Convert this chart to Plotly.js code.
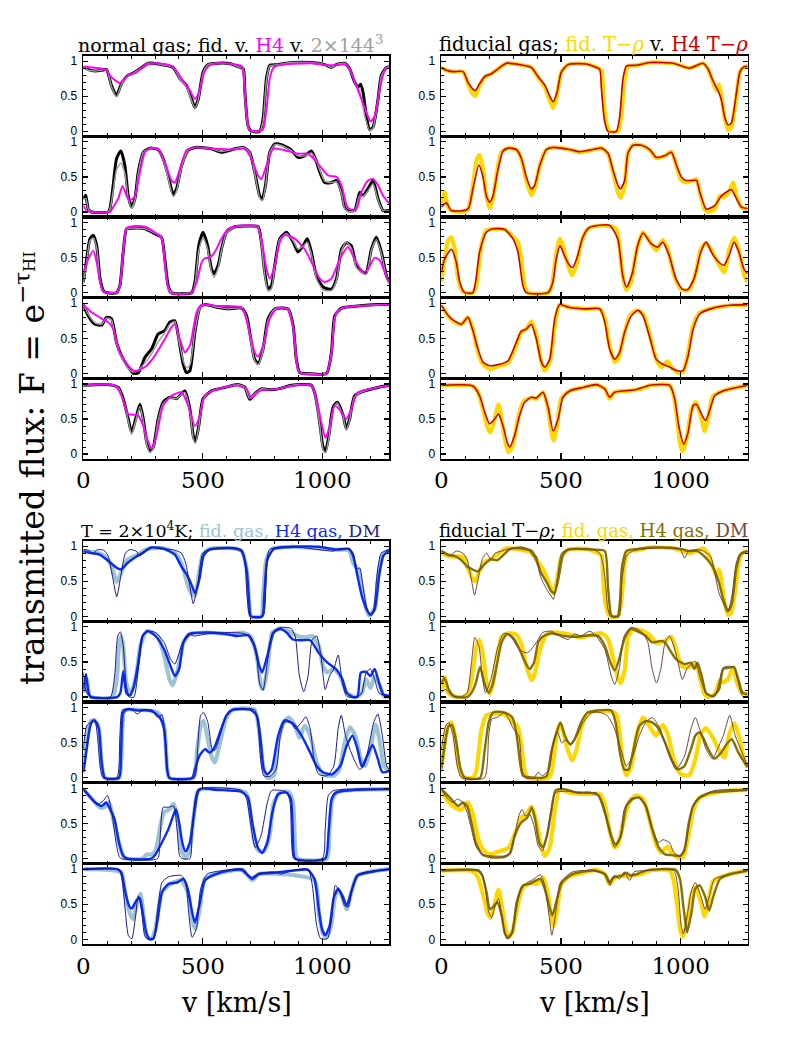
<!DOCTYPE html>
<html><head><meta charset="utf-8">
<script src="https://cdn.plot.ly/plotly-3.0.1.min.js"></script>
<style>html,body{margin:0;padding:0;background:#fff}#chart{width:789px;height:1051px}</style>
</head><body><div id="chart"></div>
<script>
// ---------------- DATA (velocity v [km/s], flux F) ----------------
// Top-left: normal gas; fid (black), 2x144^3 (gray), H4 (magenta)
const tl1FidV=[0,21,50,77,97,118,139,160,188,209,237,272,313,376,404,432,453,467,481,501,522,564,620,648,669,676,689,703,738,752,766,780,815,870,954,1010,1038,1058,1093,1114,1135,1149,1160,1170,1184,1198,1212,1233,1247,1268,1280];
const tl1FidF=[0.92,0.88,0.86,0.87,0.88,0.65,0.51,0.68,0.80,0.83,0.89,0.97,0.96,0.91,0.75,0.65,0.46,0.34,0.46,0.84,0.95,0.97,0.96,0.92,0.89,0.56,0.08,0.0,0.0,0.18,0.75,0.94,0.95,0.98,0.98,0.95,0.91,0.95,0.97,0.89,0.70,0.63,0.67,0.56,0.22,0.02,0.06,0.46,0.80,0.91,0.92];
const tl1GrayV=[0,21,50,77,97,118,139,160,188,209,237,272,313,376,404,432,453,467,481,501,522,564,620,648,669,676,689,703,738,752,766,780,815,870,954,1010,1038,1058,1093,1114,1135,1156,1177,1198,1212,1233,1247,1268,1280];
const tl1GrayF=[0.92,0.87,0.86,0.87,0.88,0.64,0.49,0.67,0.79,0.83,0.89,0.97,0.96,0.91,0.74,0.63,0.44,0.33,0.45,0.83,0.95,0.97,0.96,0.92,0.89,0.52,0.06,0.0,0.0,0.15,0.72,0.93,0.95,0.98,0.98,0.95,0.91,0.95,0.97,0.89,0.70,0.57,0.22,0.01,0.05,0.44,0.79,0.91,0.92];
const tl1H4V=[0,63,91,118,153,188,223,258,299,355,383,411,446,467,488,506,529,564,620,662,676,696,738,752,766,780,794,815,954,1038,1080,1100,1121,1142,1163,1184,1202,1219,1240,1261,1280];
const tl1H4F=[0.92,0.90,0.88,0.77,0.69,0.80,0.84,0.94,0.97,0.95,0.89,0.75,0.58,0.46,0.60,0.84,0.94,0.97,0.96,0.93,0.55,0.02,0.0,0.03,0.30,0.75,0.90,0.94,0.97,0.94,0.95,0.95,0.84,0.65,0.46,0.27,0.14,0.22,0.60,0.87,0.92];

const tl2FidV=[0,10,21,35,104,111,125,139,157,174,188,202,216,230,251,279,313,334,355,376,390,411,439,467,536,578,634,669,696,717,738,749,762,780,801,829,871,898,926,954,971,989,1010,1038,1059,1080,1093,1107,1135,1156,1170,1191,1212,1233,1254,1280];
const tl2FidF=[0.19,0.24,0.04,0.0,0.0,0.04,0.38,0.76,0.87,0.66,0.23,0.07,0.19,0.57,0.85,0.91,0.89,0.76,0.52,0.25,0.33,0.66,0.88,0.92,0.90,0.85,0.90,0.92,0.85,0.57,0.23,0.19,0.38,0.85,0.97,0.96,0.88,0.78,0.80,0.87,0.76,0.57,0.42,0.42,0.45,0.28,0.07,0.02,0.02,0.28,0.23,0.33,0.45,0.19,0.02,0.02];
const tl2GrayF=[0.17,0.20,0.04,0.0,0.0,0.03,0.30,0.60,0.70,0.55,0.20,0.05,0.17,0.55,0.85,0.91,0.89,0.74,0.48,0.22,0.30,0.64,0.88,0.92,0.90,0.86,0.90,0.92,0.85,0.55,0.20,0.16,0.36,0.85,0.96,0.95,0.87,0.80,0.80,0.84,0.76,0.60,0.44,0.42,0.43,0.26,0.05,0.01,0.01,0.24,0.22,0.30,0.40,0.17,0.02,0.02];
const tl2H4V=[0,14,35,111,125,146,164,181,195,216,237,258,279,313,341,369,383,404,432,467,564,634,676,703,731,745,766,794,815,843,898,940,982,1024,1059,1080,1100,1114,1142,1163,1191,1212,1233,1254,1280];
const tl2H4F=[0.09,0.02,0.0,0.0,0.07,0.19,0.37,0.23,0.16,0.23,0.57,0.85,0.91,0.90,0.71,0.45,0.42,0.61,0.88,0.92,0.90,0.89,0.90,0.76,0.52,0.47,0.66,0.90,0.90,0.88,0.83,0.83,0.69,0.52,0.50,0.38,0.11,0.04,0.04,0.28,0.45,0.47,0.38,0.23,0.12];

const tl3FidV=[0,14,28,42,56,70,84,98,139,153,167,181,202,258,299,327,341,355,369,453,467,483,501,520,536,547,564,578,599,634,689,731,745,759,773,787,801,822,850,878,898,919,937,954,975,1003,1038,1059,1080,1100,1121,1142,1170,1184,1205,1226,1247,1268,1280];
const tl3FidF=[0.15,0.48,0.77,0.82,0.67,0.20,0.03,0.0,0.0,0.10,0.58,0.91,0.92,0.91,0.84,0.79,0.48,0.10,0.0,0.0,0.15,0.67,0.86,0.67,0.34,0.27,0.39,0.62,0.86,0.94,0.95,0.94,0.72,0.29,0.06,0.10,0.39,0.77,0.86,0.72,0.58,0.67,0.77,0.58,0.24,0.08,0.05,0.20,0.62,0.71,0.67,0.39,0.29,0.29,0.62,0.79,0.58,0.24,0.15];
const tl3GrayF=[0.12,0.45,0.74,0.78,0.64,0.18,0.02,0.0,0.0,0.08,0.56,0.90,0.92,0.91,0.85,0.80,0.45,0.08,0.0,0.0,0.12,0.60,0.78,0.62,0.30,0.22,0.35,0.60,0.85,0.94,0.95,0.94,0.70,0.25,0.02,0.05,0.37,0.76,0.84,0.74,0.62,0.66,0.72,0.55,0.20,0.04,0.03,0.17,0.60,0.72,0.64,0.36,0.27,0.26,0.60,0.76,0.56,0.22,0.13];
const tl3H4V=[0,21,42,56,70,84,98,139,153,167,181,216,258,299,327,348,362,453,474,495,508,529,550,578,606,648,724,745,766,780,801,822,843,885,926,961,989,1010,1038,1073,1107,1135,1170,1191,1219,1240,1261,1280];
const tl3H4F=[0.29,0.48,0.60,0.43,0.15,0.01,0.0,0.0,0.10,0.60,0.92,0.95,0.94,0.86,0.77,0.20,0.0,0.0,0.15,0.43,0.49,0.50,0.58,0.77,0.91,0.95,0.95,0.77,0.34,0.20,0.39,0.72,0.82,0.77,0.62,0.39,0.20,0.15,0.20,0.48,0.65,0.48,0.29,0.34,0.50,0.46,0.29,0.15];

const tl4FidV=[0,21,49,77,98,118,139,160,188,209,230,258,286,313,341,362,383,397,418,432,446,467,488,508,564,606,662,683,703,717,731,752,773,801,857,878,891,905,926,1017,1038,1052,1080,1149,1233,1280];
const tl4FidF=[0.98,0.82,0.70,0.69,0.80,0.78,0.44,0.25,0.09,0.0,0.01,0.23,0.35,0.56,0.61,0.73,0.75,0.54,0.13,0.01,0.04,0.59,0.94,0.98,0.94,0.92,0.93,0.82,0.44,0.20,0.14,0.35,0.78,0.92,0.92,0.68,0.20,0.01,0.0,0.0,0.30,0.82,0.93,0.96,0.98,0.98];
const tl4GrayF=[0.98,0.84,0.72,0.70,0.79,0.76,0.42,0.22,0.07,0.02,0.05,0.15,0.28,0.45,0.58,0.70,0.74,0.52,0.18,0.08,0.12,0.60,0.93,0.98,0.94,0.92,0.93,0.80,0.40,0.18,0.12,0.33,0.76,0.92,0.92,0.66,0.18,0.01,0.0,0.0,0.28,0.80,0.93,0.96,0.98,0.98];
const tl4H4V=[0,35,77,104,125,153,188,216,258,299,341,369,383,404,425,446,474,495,564,662,689,717,731,752,780,808,850,878,898,912,1017,1038,1059,1093,1149,1280];
const tl4H4F=[0.98,0.87,0.78,0.73,0.63,0.30,0.11,0.03,0.09,0.25,0.49,0.66,0.70,0.49,0.30,0.40,0.87,0.98,0.96,0.94,0.68,0.30,0.24,0.40,0.78,0.92,0.93,0.66,0.05,0.0,0.0,0.30,0.87,0.94,0.96,0.98];

const tl5FidV=[0,104,146,167,188,202,219,237,251,265,279,293,313,334,362,390,425,446,460,469,483,501,536,592,648,676,696,717,745,773,801,829,871,954,971,989,1003,1013,1027,1045,1063,1087,1100,1114,1135,1177,1233,1280];
const tl5FidF=[0.98,0.99,0.95,0.79,0.50,0.31,0.50,0.71,0.50,0.17,0.04,0.10,0.50,0.74,0.81,0.79,0.90,0.64,0.26,0.18,0.40,0.79,0.90,0.95,0.99,0.95,0.78,0.86,0.93,0.92,0.92,0.94,0.98,0.98,0.83,0.45,0.10,0.04,0.26,0.67,0.74,0.55,0.36,0.50,0.83,0.90,0.95,0.98];
const tl5GrayF=[0.98,0.99,0.95,0.77,0.47,0.28,0.47,0.68,0.47,0.14,0.02,0.08,0.48,0.72,0.80,0.79,0.88,0.62,0.22,0.15,0.38,0.78,0.90,0.95,0.99,0.95,0.79,0.86,0.93,0.92,0.92,0.94,0.98,0.98,0.81,0.42,0.06,0.02,0.22,0.65,0.73,0.53,0.34,0.48,0.82,0.90,0.95,0.98];
const tl5H4V=[0,132,160,188,216,230,251,272,286,306,334,369,411,439,467,488,508,564,634,683,703,738,815,871,954,975,996,1013,1031,1052,1080,1100,1121,1149,1233,1280];
const tl5H4F=[0.98,0.98,0.83,0.57,0.56,0.55,0.40,0.17,0.08,0.26,0.69,0.83,0.88,0.69,0.40,0.55,0.83,0.93,0.98,0.93,0.80,0.90,0.93,0.97,0.98,0.79,0.45,0.23,0.40,0.69,0.60,0.50,0.64,0.88,0.95,0.98];

// Fiducial gas with fiducial T-rho (gold) – shared by top-right and bottom-right
const fid1V=[0,21,49,91,111,132,142,157,181,209,237,272,327,376,404,432,453,467,483,501,529,606,648,669,676,686,703,738,752,766,780,815,871,968,1038,1093,1114,1135,1149,1160,1170,1184,1198,1212,1233,1247,1261,1280];
const fid1F=[0.91,0.87,0.85,0.85,0.68,0.53,0.50,0.63,0.77,0.82,0.89,0.97,0.95,0.91,0.77,0.63,0.44,0.33,0.51,0.84,0.95,0.96,0.91,0.87,0.56,0.18,0.0,0.0,0.22,0.75,0.93,0.94,0.98,0.97,0.90,0.97,0.89,0.70,0.58,0.67,0.51,0.18,0.02,0.06,0.51,0.84,0.91,0.93];
const fid2V=[0,14,28,42,84,111,132,149,160,174,188,202,216,230,251,279,313,334,355,376,390,411,439,467,536,578,634,669,696,717,738,749,766,780,801,836,871,898,933,961,982,1003,1024,1052,1066,1080,1100,1114,1142,1163,1177,1198,1219,1233,1254,1280];
const fid2F=[0.09,0.28,0.07,0.02,0.0,0.04,0.38,0.76,0.81,0.61,0.23,0.05,0.19,0.52,0.85,0.91,0.89,0.76,0.45,0.24,0.33,0.66,0.89,0.92,0.89,0.85,0.89,0.91,0.83,0.57,0.28,0.20,0.38,0.85,0.96,0.95,0.88,0.77,0.80,0.86,0.66,0.45,0.42,0.45,0.47,0.28,0.04,0.0,0.04,0.23,0.21,0.26,0.42,0.23,0.07,0.04];
const fid3V=[0,14,28,42,56,70,91,132,146,167,188,223,265,292,320,334,348,362,446,460,481,494,508,529,546,564,585,612,646,702,730,744,758,772,793,814,842,869,897,925,946,973,1001,1036,1063,1084,1105,1133,1161,1182,1203,1224,1245,1266,1280];
const fid3F=[0.15,0.48,0.74,0.79,0.62,0.20,0.01,0.0,0.10,0.67,0.89,0.91,0.90,0.82,0.72,0.48,0.10,0.0,0.0,0.08,0.58,0.77,0.67,0.39,0.25,0.39,0.72,0.91,0.95,0.95,0.91,0.67,0.24,0.04,0.15,0.58,0.86,0.74,0.60,0.75,0.62,0.24,0.05,0.04,0.29,0.62,0.71,0.58,0.39,0.29,0.62,0.78,0.58,0.24,0.15];
const fid4V=[0,28,56,84,111,132,153,174,202,237,279,313,334,355,376,397,418,432,453,474,494,536,606,662,683,703,724,738,759,787,815,843,871,898,919,940,947,961,989,1010,1031,1052,1080,1135,1205,1280];
const fid4F=[0.97,0.82,0.73,0.70,0.80,0.63,0.30,0.13,0.06,0.10,0.15,0.40,0.59,0.63,0.74,0.54,0.16,0.04,0.16,0.68,0.98,0.94,0.92,0.92,0.78,0.40,0.16,0.20,0.49,0.82,0.90,0.85,0.54,0.20,0.09,0.16,0.17,0.09,0.01,0.02,0.30,0.68,0.87,0.93,0.97,0.98];
const fid5V=[0,132,153,174,195,206,223,239,254,268,280,296,320,341,369,397,425,446,460,469,483,501,536,592,648,683,703,724,752,780,815,843,871,954,971,985,999,1010,1027,1045,1063,1087,1100,1114,1135,1177,1233,1280];
const fid5F=[0.98,0.97,0.88,0.64,0.36,0.31,0.50,0.71,0.45,0.17,0.03,0.10,0.50,0.74,0.80,0.79,0.88,0.64,0.31,0.19,0.40,0.79,0.90,0.95,0.99,0.93,0.79,0.88,0.90,0.90,0.92,0.94,0.98,0.98,0.83,0.50,0.12,0.04,0.26,0.64,0.74,0.50,0.33,0.50,0.83,0.90,0.95,0.98];

// Top-right: fiducial gas with H4 T-rho (red)
const tr1RedV=[0,21,49,91,111,132,142,157,181,209,237,272,327,376,404,432,453,467,483,501,529,606,648,662,669,682,696,731,745,759,773,815,871,968,1038,1093,1114,1135,1156,1170,1184,1198,1212,1233,1247,1261,1280];
const tr1RedF=[0.91,0.87,0.85,0.85,0.70,0.60,0.58,0.66,0.78,0.82,0.89,0.97,0.95,0.91,0.78,0.66,0.50,0.42,0.55,0.84,0.95,0.96,0.91,0.88,0.60,0.15,0.0,0.0,0.20,0.75,0.93,0.94,0.98,0.97,0.90,0.97,0.89,0.72,0.58,0.45,0.20,0.09,0.12,0.55,0.84,0.91,0.93];
const tr2RedV=[0,21,42,111,132,157,174,188,202,216,237,258,279,313,334,355,376,390,411,439,467,536,578,634,669,696,717,738,749,766,780,801,836,871,898,933,961,982,1003,1024,1052,1066,1080,1107,1142,1170,1198,1212,1233,1254,1280];
const tr2RedF=[0.07,0.13,0.02,0.04,0.33,0.67,0.50,0.23,0.14,0.23,0.61,0.87,0.91,0.89,0.77,0.50,0.33,0.38,0.66,0.89,0.92,0.89,0.86,0.89,0.91,0.84,0.60,0.38,0.33,0.45,0.84,0.95,0.95,0.89,0.78,0.80,0.85,0.67,0.50,0.45,0.45,0.45,0.28,0.04,0.09,0.23,0.30,0.32,0.19,0.07,0.05];
const tr3RedV=[0,14,42,63,77,98,132,160,188,216,265,299,320,341,355,446,466,480,496,514,535,549,570,591,619,702,737,758,774,799,820,843,876,904,925,952,980,1007,1028,1056,1084,1107,1133,1161,1181,1202,1223,1243,1264,1280];
const tr3RedF=[0.29,0.48,0.62,0.43,0.15,0.0,0.0,0.58,0.86,0.91,0.90,0.77,0.58,0.10,0.0,0.0,0.15,0.48,0.67,0.53,0.39,0.36,0.53,0.79,0.93,0.96,0.77,0.24,0.08,0.29,0.67,0.85,0.70,0.65,0.72,0.53,0.20,0.05,0.04,0.20,0.58,0.72,0.55,0.43,0.39,0.53,0.72,0.58,0.34,0.27];
const tr4RedV=[0,35,63,84,111,132,153,174,202,244,279,313,334,355,376,397,418,432,453,474,494,536,606,662,683,703,724,745,766,794,822,843,871,898,926,954,982,1010,1031,1052,1080,1135,1205,1280];
const tr4RedF=[0.97,0.80,0.73,0.70,0.80,0.61,0.35,0.16,0.11,0.13,0.18,0.44,0.60,0.63,0.70,0.49,0.16,0.09,0.20,0.78,0.98,0.94,0.92,0.92,0.73,0.35,0.20,0.30,0.59,0.82,0.90,0.82,0.51,0.20,0.13,0.09,0.04,0.04,0.25,0.63,0.85,0.93,0.97,0.98];
const tr5RedV=[0,132,160,181,202,223,239,258,275,286,306,327,348,376,397,425,446,467,488,508,536,592,648,683,703,724,815,871,954,975,992,1013,1031,1052,1066,1087,1104,1121,1142,1177,1280];
const tr5RedF=[0.98,0.97,0.83,0.60,0.43,0.50,0.57,0.40,0.17,0.10,0.26,0.55,0.74,0.81,0.80,0.88,0.67,0.33,0.50,0.81,0.90,0.95,0.99,0.93,0.81,0.88,0.92,0.98,0.98,0.79,0.40,0.14,0.31,0.69,0.71,0.57,0.48,0.62,0.83,0.90,0.98];

// Bottom-left: T = 2e4 K; fid gas (light blue), H4 gas (blue), DM (navy)
const bl1FidV=[0,68,104,122,140,158,185,230,266,338,383,410,437,455,467,482,500,527,626,662,683,694,701,745,752,766,790,877,1057,1111,1129,1147,1165,1183,1197,1219,1237,1258,1280];
const bl1FidF=[0.93,0.90,0.81,0.67,0.49,0.62,0.81,0.88,0.96,0.97,0.90,0.76,0.45,0.31,0.30,0.57,0.88,0.96,0.97,0.93,0.67,0.19,0.0,0.0,0.29,0.81,0.96,0.99,0.95,0.94,0.76,0.67,0.43,0.10,0.01,0.12,0.67,0.90,0.94];
const bl1H4V=[0,32,68,104,140,158,185,221,248,284,338,383,410,437,455,467,485,503,527,626,662,683,694,701,748,757,770,797,877,985,1057,1111,1129,1147,1165,1183,1201,1219,1237,1255,1280];
const bl1H4F=[0.93,0.90,0.88,0.79,0.69,0.67,0.76,0.85,0.90,0.98,0.96,0.88,0.71,0.57,0.43,0.33,0.52,0.86,0.95,0.97,0.93,0.67,0.19,0.0,0.0,0.29,0.81,0.96,0.99,0.99,0.95,0.96,0.86,0.57,0.29,0.12,0.02,0.10,0.57,0.86,0.94];
const bl1DmV=[0,14,41,59,86,104,122,140,158,176,195,221,237,255,284,338,374,410,428,446,460,478,500,527,662,685,698,752,764,779,877,1048,1057,1111,1129,1143,1156,1174,1192,1210,1228,1246,1280];
const bl1DmF=[0.95,0.95,0.90,0.95,0.94,0.86,0.57,0.28,0.60,0.90,0.95,0.93,0.86,0.93,0.98,0.96,0.95,0.90,0.76,0.43,0.18,0.43,0.90,0.95,0.95,0.29,0.0,0.0,0.43,0.95,0.99,0.93,0.95,0.96,0.90,0.67,0.69,0.33,0.05,0.04,0.57,0.90,0.95];

const bl2FidV=[0,14,29,122,140,149,158,167,180,198,221,239,266,311,338,361,374,396,419,446,518,608,662,698,725,743,752,770,791,824,859,895,931,958,985,1003,1021,1048,1075,1102,1138,1165,1183,1201,1219,1237,1258,1280];
const bl2FidF=[0.06,0.25,0.01,0.0,0.25,0.73,0.87,0.73,0.20,0.04,0.30,0.73,0.94,0.87,0.59,0.25,0.17,0.40,0.78,0.90,0.92,0.90,0.92,0.87,0.59,0.16,0.11,0.40,0.92,0.98,0.94,0.87,0.85,0.87,0.73,0.44,0.35,0.40,0.30,0.06,0.0,0.06,0.25,0.13,0.30,0.20,0.01,0.01];
const bl2H4V=[0,11,22,32,140,155,167,180,194,212,230,248,270,302,338,365,383,401,419,446,518,590,644,689,716,734,748,770,797,824,850,877,913,949,985,1021,1057,1084,1102,1129,1147,1161,1183,1201,1219,1237,1255,1280];
const bl2H4F=[0.11,0.33,0.06,0.0,0.0,0.06,0.37,0.06,0.02,0.16,0.49,0.87,0.94,0.87,0.68,0.44,0.30,0.40,0.78,0.90,0.92,0.90,0.87,0.88,0.73,0.47,0.35,0.59,0.92,0.97,0.92,0.82,0.81,0.81,0.63,0.49,0.40,0.25,0.06,0.0,0.01,0.35,0.36,0.30,0.40,0.20,0.04,0.02];
const bl2DmV=[0,14,32,113,131,144,155,167,180,194,212,230,248,266,302,338,365,383,410,437,464,518,608,662,698,725,737,752,770,791,824,868,886,904,922,940,958,976,994,1012,1030,1048,1066,1084,1102,1147,1165,1183,1201,1219,1237,1280];
const bl2DmF=[0.35,0.06,0.0,0.0,0.30,0.87,0.93,0.73,0.16,0.0,0.0,0.40,0.87,0.94,0.92,0.78,0.54,0.47,0.73,0.90,0.87,0.90,0.92,0.91,0.87,0.59,0.20,0.10,0.49,0.92,0.99,0.98,0.87,0.30,0.08,0.30,0.82,0.87,0.59,0.11,0.30,0.40,0.60,0.20,0.01,0.0,0.06,0.35,0.40,0.25,0.06,0.0];

const bl3FidV=[0,18,32,50,65,77,90,149,162,173,230,311,338,351,360,460,475,491,503,518,536,550,572,599,626,716,734,752,770,797,815,838,859,886,904,926,949,976,1003,1048,1071,1093,1115,1138,1165,1179,1201,1223,1241,1258,1280];
const bl3FidF=[0.12,0.60,0.81,0.81,0.70,0.17,0.0,0.0,0.60,0.96,0.97,0.93,0.74,0.12,0.0,0.0,0.36,0.74,0.81,0.60,0.31,0.22,0.50,0.86,0.97,0.97,0.70,0.17,0.0,0.03,0.50,0.79,0.86,0.74,0.57,0.74,0.60,0.22,0.05,0.03,0.12,0.50,0.72,0.60,0.22,0.17,0.41,0.76,0.50,0.17,0.10];
const bl3H4V=[0,14,29,41,54,65,77,90,149,158,167,185,230,284,320,338,351,360,455,467,485,509,527,545,572,599,626,698,725,743,755,770,788,815,842,877,913,949,976,1003,1039,1075,1102,1126,1147,1165,1187,1210,1232,1251,1280];
const bl3H4F=[0.08,0.41,0.74,0.81,0.79,0.70,0.22,0.0,0.0,0.36,0.93,0.98,0.96,0.96,0.86,0.70,0.12,0.0,0.0,0.12,0.31,0.41,0.36,0.41,0.65,0.89,0.97,0.97,0.89,0.50,0.12,0.05,0.12,0.60,0.82,0.77,0.60,0.36,0.17,0.08,0.05,0.17,0.46,0.60,0.41,0.16,0.31,0.47,0.27,0.08,0.10];
const bl3DmV=[0,14,29,47,59,72,83,140,153,164,203,226,248,293,311,329,347,360,464,478,491,503,521,539,550,572,599,626,716,730,743,755,780,806,824,842,868,886,913,931,949,967,985,1021,1048,1066,1079,1097,1115,1138,1156,1174,1192,1215,1232,1251,1269,1280];
const bl3DmF=[0.41,0.74,0.79,0.84,0.60,0.12,0.0,0.0,0.60,0.97,0.97,0.91,0.96,0.93,0.86,0.90,0.41,0.0,0.0,0.41,0.89,0.93,0.79,0.41,0.39,0.60,0.89,0.97,0.97,0.79,0.22,0.03,0.02,0.12,0.60,0.79,0.79,0.70,0.79,0.87,0.70,0.22,0.05,0.03,0.17,0.70,0.89,0.60,0.41,0.22,0.12,0.17,0.41,0.79,0.91,0.60,0.17,0.12];

const bl4FidV=[0,32,68,86,108,122,149,173,248,266,284,302,320,338,360,378,396,410,428,443,464,482,680,698,716,734,755,779,797,824,859,877,886,895,1018,1030,1043,1066,1280];
const bl4FidF=[0.99,0.87,0.73,0.73,0.80,0.61,0.23,0.01,0.0,0.06,0.06,0.11,0.42,0.66,0.70,0.78,0.51,0.13,0.01,0.09,0.66,0.97,0.94,0.66,0.23,0.11,0.10,0.32,0.80,0.94,0.95,0.80,0.18,0.0,0.0,0.42,0.85,0.95,0.99];
const bl4H4V=[0,23,50,77,95,108,131,149,167,185,284,302,329,356,378,388,401,414,428,446,464,482,500,554,608,662,689,707,730,748,770,791,815,850,868,877,886,1012,1025,1039,1057,1147,1280];
const bl4H4F=[0.99,0.90,0.80,0.75,0.80,0.73,0.56,0.23,0.04,0.0,0.0,0.06,0.23,0.42,0.63,0.70,0.51,0.23,0.10,0.23,0.66,0.97,1.0,0.98,0.97,0.95,0.87,0.51,0.16,0.08,0.23,0.66,0.92,0.94,0.85,0.32,0.0,0.0,0.32,0.85,0.94,0.98,0.99];
const bl4DmV=[0,32,59,83,101,119,137,149,158,311,320,334,356,378,392,403,414,446,455,468,482,662,683,701,719,743,770,788,850,865,872,881,1000,1012,1025,1048,1280];
const bl4DmF=[0.99,0.85,0.78,0.82,0.90,0.66,0.23,0.04,0.0,0.0,0.23,0.73,0.73,0.75,0.42,0.04,0.0,0.0,0.32,0.85,0.99,0.97,0.85,0.47,0.16,0.32,0.80,0.97,0.95,0.80,0.18,0.0,0.0,0.42,0.90,0.97,0.99];

const bl5FidV=[0,158,176,194,208,226,239,252,266,284,302,329,365,410,437,455,467,485,509,554,662,689,707,734,967,985,1003,1018,1036,1054,1066,1084,1102,1120,1147,1280];
const bl5FidF=[1.0,0.95,0.62,0.38,0.29,0.53,0.65,0.34,0.05,0.0,0.15,0.67,0.79,0.84,0.67,0.29,0.15,0.39,0.86,0.93,0.99,0.91,0.84,0.93,0.84,0.38,0.08,0.03,0.19,0.62,0.70,0.60,0.43,0.65,0.91,1.0];
const bl5H4V=[0,140,158,173,191,203,221,236,248,263,275,293,311,329,356,392,419,437,455,467,485,509,554,608,662,689,707,734,806,877,940,967,985,998,1012,1030,1048,1066,1084,1102,1120,1147,1219,1280];
const bl5H4F=[1.0,1.0,0.96,0.72,0.48,0.44,0.55,0.59,0.39,0.10,0.01,0.01,0.29,0.67,0.79,0.81,0.86,0.72,0.39,0.24,0.48,0.84,0.93,0.98,0.99,0.91,0.86,0.93,0.95,0.98,0.99,0.86,0.43,0.15,0.06,0.19,0.60,0.72,0.62,0.48,0.67,0.91,0.97,1.0];
const bl5DmV=[0,149,162,176,189,203,217,230,243,257,270,293,311,329,356,410,428,442,455,473,491,518,608,671,698,734,806,824,877,940,958,976,993,1021,1039,1054,1075,1093,1108,1129,1156,1280];
const bl5DmF=[1.0,1.0,0.86,0.39,0.05,0.01,0.29,0.62,0.43,0.05,0.0,0.0,0.43,0.81,0.89,0.91,0.81,0.34,0.03,0.15,0.72,0.93,0.99,1.0,0.88,0.94,0.96,0.93,0.98,1.0,0.77,0.20,0.01,0.01,0.29,0.77,0.67,0.48,0.46,0.77,0.93,1.0];

// Bottom-right: fiducial T-rho; H4 gas (olive), DM (brown)
const br1H4V=[0,27,54,81,108,135,153,180,207,234,261,288,333,378,396,414,441,459,473,491,509,530,638,683,696,707,714,737,746,755,773,818,908,998,1034,1070,1097,1133,1160,1178,1199,1214,1232,1250,1280];
const br1H4F=[0.93,0.88,0.86,0.81,0.71,0.66,0.64,0.74,0.81,0.80,0.88,0.96,0.98,0.93,0.81,0.64,0.48,0.36,0.33,0.57,0.88,0.95,0.95,0.93,0.43,0.05,0.0,0.0,0.19,0.71,0.93,0.96,0.98,0.96,0.93,0.93,0.86,0.71,0.48,0.24,0.08,0.18,0.67,0.88,0.93];
const br1DmV=[0,18,36,63,90,108,126,139,153,171,189,207,225,252,279,333,369,383,396,414,441,459,468,486,503,530,638,665,683,696,707,742,755,773,800,908,998,1016,1034,1079,1124,1142,1160,1178,1196,1214,1232,1250,1280];
const br1DmF=[0.95,0.88,0.86,0.93,0.90,0.81,0.52,0.30,0.52,0.81,0.90,0.81,0.90,0.93,0.96,0.96,0.93,0.86,0.86,0.57,0.38,0.29,0.24,0.57,0.90,0.95,0.95,0.88,0.57,0.10,0.0,0.0,0.52,0.86,0.93,0.98,0.95,0.83,0.93,0.95,0.86,0.62,0.33,0.19,0.06,0.29,0.76,0.90,0.93];
const br2H4V=[0,14,31,54,108,126,144,162,180,198,216,234,252,275,306,333,351,369,387,405,423,459,512,566,620,656,683,707,725,743,764,791,818,854,881,917,935,953,980,1016,1043,1057,1070,1088,1106,1133,1160,1178,1205,1223,1241,1259,1280];
const br2H4F=[0.20,0.27,0.11,0.01,0.0,0.06,0.20,0.43,0.20,0.06,0.20,0.49,0.78,0.90,0.82,0.63,0.49,0.40,0.49,0.78,0.86,0.91,0.87,0.86,0.88,0.87,0.73,0.49,0.38,0.54,0.82,0.97,0.94,0.87,0.78,0.80,0.78,0.68,0.54,0.47,0.49,0.40,0.49,0.30,0.06,0.01,0.11,0.40,0.42,0.43,0.25,0.06,0.04];
const br2DmV=[0,18,45,81,108,126,140,157,171,185,207,234,261,288,315,333,360,387,405,423,459,494,530,557,584,620,647,683,710,725,743,764,791,818,845,863,881,899,917,935,953,971,989,1007,1025,1043,1061,1079,1106,1142,1178,1205,1223,1241,1259,1280];
const br2DmF=[0.06,0.11,0.02,0.0,0.06,0.49,0.85,0.73,0.30,0.06,0.25,0.68,0.91,0.87,0.73,0.66,0.63,0.73,0.82,0.92,0.94,0.87,0.82,0.90,0.87,0.94,0.87,0.68,0.30,0.18,0.40,0.87,0.99,0.97,0.90,0.78,0.40,0.20,0.40,0.78,0.87,0.73,0.49,0.25,0.40,0.47,0.51,0.30,0.06,0.01,0.42,0.44,0.42,0.20,0.01,0.01];
const br3H4V=[0,18,31,45,63,81,99,162,180,198,216,252,279,297,315,329,342,423,441,459,477,498,516,539,557,584,611,656,710,728,746,764,782,800,827,854,881,908,935,962,989,1016,1043,1061,1079,1097,1115,1142,1169,1196,1214,1241,1280];
const br3H4F=[0.12,0.55,0.74,0.75,0.50,0.12,0.0,0.0,0.36,0.79,0.93,0.94,0.91,0.86,0.60,0.22,0.03,0.0,0.03,0.36,0.60,0.79,0.60,0.48,0.55,0.79,0.93,0.96,0.96,0.79,0.36,0.12,0.12,0.36,0.74,0.81,0.79,0.70,0.50,0.26,0.12,0.17,0.41,0.60,0.65,0.55,0.41,0.27,0.36,0.50,0.55,0.36,0.15];
const br3DmV=[0,18,31,49,67,85,180,198,211,234,261,279,301,324,337,351,387,405,423,450,468,486,503,521,539,566,593,629,665,692,719,746,773,800,827,854,881,908,944,980,1016,1043,1061,1079,1106,1133,1160,1178,1205,1228,1280];
const br3DmF=[0.41,0.74,0.79,0.60,0.17,0.0,0.0,0.60,0.84,0.86,0.93,0.86,0.70,0.60,0.12,0.0,0.0,0.08,0.03,0.12,0.50,0.65,0.50,0.54,0.46,0.60,0.79,0.93,0.93,0.89,0.74,0.46,0.17,0.31,0.60,0.79,0.86,0.74,0.41,0.12,0.31,0.70,0.86,0.70,0.41,0.27,0.46,0.60,0.89,0.60,0.17];
const br4H4V=[0,27,54,72,90,108,126,144,171,207,261,288,306,333,360,378,392,409,423,441,459,477,513,566,620,656,683,710,728,750,773,800,827,854,881,908,935,962,998,1016,1034,1052,1079,1124,1196,1280];
const br4H4F=[0.99,0.90,0.80,0.75,0.80,0.75,0.51,0.23,0.06,0.02,0.02,0.08,0.32,0.51,0.59,0.73,0.56,0.23,0.16,0.32,0.66,0.97,0.99,0.94,0.94,0.90,0.66,0.32,0.20,0.32,0.75,0.85,0.87,0.75,0.42,0.16,0.06,0.05,0.04,0.13,0.51,0.75,0.87,0.94,0.96,0.98];
const br4DmV=[0,27,49,67,90,108,126,144,171,207,279,306,324,337,351,369,387,405,423,441,459,477,513,585,620,647,674,701,724,746,764,791,827,854,881,908,926,953,971,998,1016,1034,1052,1079,1142,1280];
const br4DmF=[0.99,0.85,0.80,0.85,0.80,0.66,0.42,0.18,0.06,0.04,0.05,0.32,0.61,0.70,0.61,0.63,0.47,0.18,0.11,0.32,0.70,0.94,0.96,0.94,0.93,0.94,0.80,0.42,0.16,0.28,0.70,0.85,0.87,0.75,0.42,0.23,0.27,0.23,0.09,0.03,0.11,0.47,0.75,0.87,0.97,0.98];
const br5H4V=[0,153,171,189,203,216,234,252,266,279,297,315,342,369,396,414,432,450,464,480,504,549,638,683,701,719,755,773,791,818,854,979,997,1011,1020,1027,1045,1061,1079,1101,1119,1137,1164,1205,1280];
const br5H4F=[0.98,0.98,0.91,0.67,0.43,0.46,0.53,0.34,0.08,0.03,0.10,0.53,0.77,0.79,0.84,0.86,0.72,0.48,0.34,0.53,0.81,0.93,0.98,0.93,0.81,0.88,0.91,0.95,0.91,0.93,0.98,0.99,0.86,0.48,0.24,0.10,0.38,0.72,0.77,0.62,0.41,0.62,0.86,0.93,0.98];
const br5DmV=[0,162,180,198,210,225,239,257,273,288,306,333,360,387,414,432,450,462,480,498,548,638,692,705,723,745,764,787,805,854,971,989,1002,1011,1025,1043,1061,1084,1102,1120,1142,1214,1280];
const br5DmF=[0.98,0.98,0.81,0.39,0.31,0.48,0.58,0.24,0.01,0.03,0.29,0.72,0.81,0.86,0.92,0.77,0.34,0.06,0.43,0.81,0.96,0.98,0.91,0.77,0.91,0.86,0.96,0.84,0.96,0.98,0.98,0.72,0.20,0.08,0.29,0.67,0.81,0.62,0.43,0.62,0.86,0.93,0.98];

// Tick labels / text
const xTickText = ['0','500','1000'];
const yTickText = ['0','0.5','1'];

// ---------------- STYLE / LAYOUT ----------------
const W = 789, H = 1051;
const C = {black:'#000000', gray:'#9c9c9c', mag:'#ff00ff', gold:'#ffd700', red:'#cc0000',
           lblue:'#9ec3d3', blue:'#0a2af5', navy:'#1c1c8c', olive:'#857000', brown:'#6b4a3a'};
const ST = {
  fid:{color:C.black,width:3.0}, gray:{color:C.gray,width:1.4}, h4n:{color:C.mag,width:1.9},
  gold:{color:C.gold,width:4.2}, red:{color:C.red,width:1.6},
  lblue:{color:C.lblue,width:4.2}, blue:{color:C.blue,width:2.4}, navy:{color:C.navy,width:1.0},
  olive:{color:C.olive,width:2.4}, brown:{color:C.brown,width:1.0}
};
const quadX = {TL:[83.3,389.3], TR:[441.3,747.7], BL:[83.3,389.3], BR:[441.3,747.7]};
const quadTop = {TL:55.5, TR:55.5, BL:540.5, BR:540.5};
const quadPH = {TL:80.7, TR:80.7, BL:80.76, BR:80.76};

const panels = [
  ['TL',1,[[tl1FidV,tl1FidF,'fid'],[tl1GrayV,tl1GrayF,'gray'],[tl1H4V,tl1H4F,'h4n']]],
  ['TL',2,[[tl2FidV,tl2FidF,'fid'],[tl2FidV,tl2GrayF,'gray'],[tl2H4V,tl2H4F,'h4n']]],
  ['TL',3,[[tl3FidV,tl3FidF,'fid'],[tl3FidV,tl3GrayF,'gray'],[tl3H4V,tl3H4F,'h4n']]],
  ['TL',4,[[tl4FidV,tl4FidF,'fid'],[tl4FidV,tl4GrayF,'gray'],[tl4H4V,tl4H4F,'h4n']]],
  ['TL',5,[[tl5FidV,tl5FidF,'fid'],[tl5FidV,tl5GrayF,'gray'],[tl5H4V,tl5H4F,'h4n']]],
  ['TR',1,[[fid1V,fid1F,'gold'],[tr1RedV,tr1RedF,'red']]],
  ['TR',2,[[fid2V,fid2F,'gold'],[tr2RedV,tr2RedF,'red']]],
  ['TR',3,[[fid3V,fid3F,'gold'],[tr3RedV,tr3RedF,'red']]],
  ['TR',4,[[fid4V,fid4F,'gold'],[tr4RedV,tr4RedF,'red']]],
  ['TR',5,[[fid5V,fid5F,'gold'],[tr5RedV,tr5RedF,'red']]],
  ['BL',1,[[bl1FidV,bl1FidF,'lblue'],[bl1H4V,bl1H4F,'blue'],[bl1DmV,bl1DmF,'navy']]],
  ['BL',2,[[bl2FidV,bl2FidF,'lblue'],[bl2H4V,bl2H4F,'blue'],[bl2DmV,bl2DmF,'navy']]],
  ['BL',3,[[bl3FidV,bl3FidF,'lblue'],[bl3H4V,bl3H4F,'blue'],[bl3DmV,bl3DmF,'navy']]],
  ['BL',4,[[bl4FidV,bl4FidF,'lblue'],[bl4H4V,bl4H4F,'blue'],[bl4DmV,bl4DmF,'navy']]],
  ['BL',5,[[bl5FidV,bl5FidF,'lblue'],[bl5H4V,bl5H4F,'blue'],[bl5DmV,bl5DmF,'navy']]],
  ['BR',1,[[fid1V,fid1F,'gold'],[br1H4V,br1H4F,'olive'],[br1DmV,br1DmF,'brown']]],
  ['BR',2,[[fid2V,fid2F,'gold'],[br2H4V,br2H4F,'olive'],[br2DmV,br2DmF,'brown']]],
  ['BR',3,[[fid3V,fid3F,'gold'],[br3H4V,br3H4F,'olive'],[br3DmV,br3DmF,'brown']]],
  ['BR',4,[[fid4V,fid4F,'gold'],[br4H4V,br4H4F,'olive'],[br4DmV,br4DmF,'brown']]],
  ['BR',5,[[fid5V,fid5F,'gold'],[br5H4V,br5H4F,'olive'],[br5DmV,br5DmF,'brown']]]
];

const traces = [];
const layout = {
  width: W, height: H, margin:{l:0,r:0,t:0,b:0},
  paper_bgcolor:'#ffffff', plot_bgcolor:'#ffffff', showlegend:false,
  font:{family:'DejaVu Serif', color:'#000'}, annotations:[]
};

panels.forEach((p, idx) => {
  const [q, k, series] = p;
  const i = idx + 1;
  const xs = i === 1 ? '' : String(i);
  const top = quadTop[q] + (k-1)*quadPH[q];
  const bot = top + quadPH[q];
  layout['xaxis'+xs] = {
    domain:[quadX[q][0]/W, quadX[q][1]/W], range:[0,1280], anchor:'y'+xs,
    showgrid:false, zeroline:false, showline:true, linecolor:'#000', linewidth:1.6, mirror:'allticks',
    ticks:'inside', ticklen:6, tickwidth:1.2, tickcolor:'#000',
    tickmode:'array', tickvals:[0,500,1000], ticktext:xTickText,
    showticklabels: k === 5, tickfont:{family:'DejaVu Serif', size:23, color:'#000'},
    ticklabelstandoff: 0,
    minor:{ticks:'inside', ticklen:3, tickwidth:1, tickcolor:'#000', tickmode:'linear', tick0:0, dtick:100, showgrid:false},
    fixedrange:true
  };
  layout['yaxis'+xs] = {
    domain:[1-bot/H, 1-top/H], range:[-0.07,1.08], anchor:'x'+xs,
    showgrid:false, zeroline:false, showline:true, linecolor:'#000', linewidth:1.6, mirror:'allticks',
    ticks:'inside', ticklen:5, tickwidth:1.2, tickcolor:'#000',
    tickmode:'array', tickvals:[0,0.5,1], ticktext:yTickText,
    tickfont:{family:'Liberation Sans, Arial, sans-serif', size:12, color:'#000'},
    ticklabelstandoff: 2,
    minor:{ticks:'inside', ticklen:2.5, tickwidth:1, tickcolor:'#000', tickmode:'linear', tick0:0, dtick:0.1, showgrid:false},
    fixedrange:true
  };
  series.forEach(s => {
    const st = ST[s[2]];
    traces.push({x:s[0], y:s[1], xaxis:'x'+xs, yaxis:'y'+xs, type:'scatter', mode:'lines',
      line:{color:st.color, width:st.width, shape:'spline', smoothing:0.6}, hoverinfo:'skip'});
  });
});

function addText(text, xpx, ypx, size, opts) {
  layout.annotations.push(Object.assign({text:text, xref:'paper', yref:'paper', x:xpx/W, y:1-ypx/H,
    showarrow:false, xanchor:'left', yanchor:'bottom', font:{family:'DejaVu Serif', size:size, color:'#000'}, borderpad:0}, opts||{}));
}
addText('normal gas; fid. v. <span style="color:'+C.mag+'">H4</span> v. <span style="color:#a0a0a0">2×144<sup>3</sup></span>', 77, 57, 19);
addText('fiducial gas; <span style="color:'+C.gold+'">fid. T−<i>ρ</i></span> v. <span style="color:'+C.red+'">H4 T−<i>ρ</i></span>', 438, 57, 19.5);
addText('T = 2×10<sup>4</sup>K; <span style="color:'+C.lblue+'">fid. gas,</span> <span style="color:'+C.blue+'">H4 gas,</span> <span style="color:'+C.navy+'">DM</span>', 80, 542, 17.5);
addText('fiducial T−<i>ρ</i>; <span style="color:'+C.gold+'">fid. gas,</span> <span style="color:'+C.olive+'">H4 gas,</span> <span style="color:'+C.brown+'">DM</span>', 438, 542, 18);
addText('v [km/s]', 236, 1002, 27, {xanchor:'center', yanchor:'middle'});
addText('v [km/s]', 594.5, 1002, 27, {xanchor:'center', yanchor:'middle'});
addText('transmitted flux: F = e<sup>−τ<sub>HI</sub></sup>', 31, 468, 33, {xanchor:'center', yanchor:'middle', textangle:-90});

Plotly.newPlot('chart', traces, layout, {staticPlot:true, displayModeBar:false});
</script>
</body></html>
